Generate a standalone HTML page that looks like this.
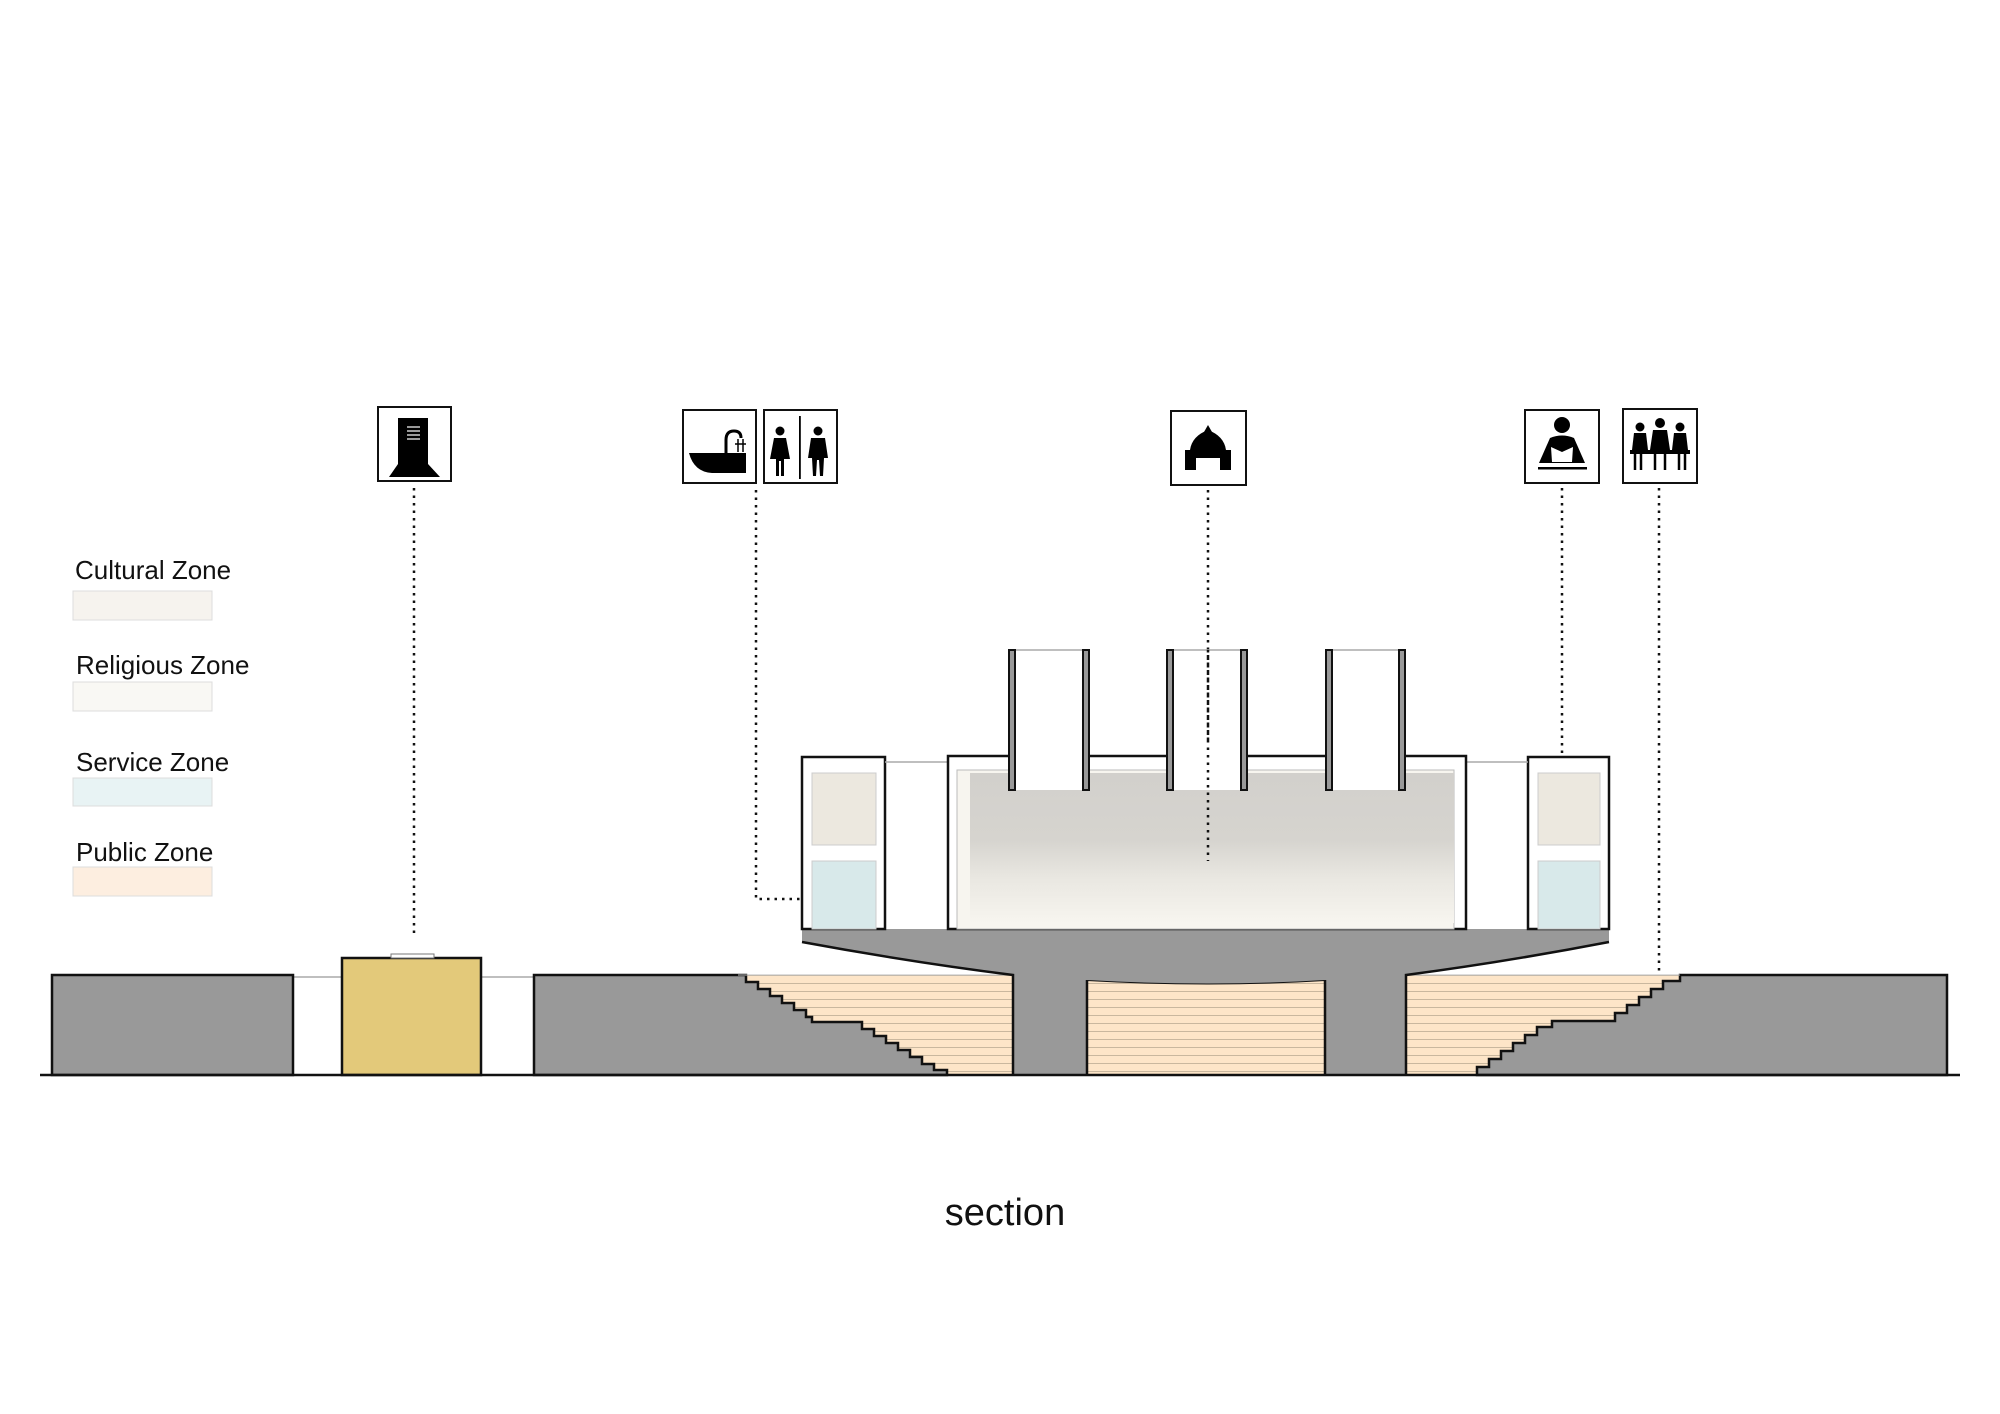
<!DOCTYPE html>
<html><head><meta charset="utf-8"><style>
html,body{margin:0;padding:0;background:#fff}
svg{display:block}
text{font-family:"Liberation Sans",sans-serif}
</style></head><body>
<svg width="2000" height="1414" viewBox="0 0 2000 1414" xmlns="http://www.w3.org/2000/svg">
<defs>
<pattern id="stripe" width="10" height="8" patternUnits="userSpaceOnUse">
<rect width="10" height="8" fill="#fde5c8"/><line x1="0" y1="7.5" x2="10" y2="7.5" stroke="#c9b79e" stroke-width="1"/>
</pattern>
<linearGradient id="hall" x1="0" y1="0" x2="0" y2="1">
<stop offset="0" stop-color="#d2d0cc"/>
<stop offset="0.45" stop-color="#d6d4cf"/>
<stop offset="0.7" stop-color="#e9e7e1"/>
<stop offset="1" stop-color="#f7f5ef"/>
</linearGradient>
</defs>

<g font-size="26" fill="#111">
<text x="75" y="579">Cultural Zone</text>
<rect x="73" y="591" width="139" height="29" fill="#f6f3ee" stroke="#ddd"/>
<text x="76" y="674">Religious Zone</text>
<rect x="73" y="682" width="139" height="29" fill="#f9f8f4" stroke="#ddd"/>
<text x="76" y="771">Service Zone</text>
<rect x="73" y="778" width="139" height="28" fill="#e8f3f4" stroke="#ddd"/>
<text x="76" y="861">Public Zone</text>
<rect x="73" y="867" width="139" height="29" fill="#fdeee0" stroke="#ddd"/>
</g>

<g stroke="#111" stroke-width="2.5" stroke-dasharray="2.5 5" fill="none">
<line x1="414" y1="488" x2="414" y2="933"/>
<polyline points="756,490 756,899 855,899"/>
<line x1="1208" y1="490" x2="1208" y2="861"/>
<line x1="1562" y1="488" x2="1562" y2="810"/>
<line x1="1659" y1="488" x2="1659" y2="982"/>
</g>

<g fill="#fff" stroke="#111" stroke-width="2">
<rect x="378" y="407" width="73" height="74"/>
<rect x="683" y="410" width="73" height="73"/>
<rect x="764" y="410" width="73" height="73"/>
<rect x="1171" y="411" width="75" height="74"/>
<rect x="1525" y="410" width="74" height="73"/>
<rect x="1623" y="409" width="74" height="74"/>
</g>
<g fill="#000">
<rect x="398" y="418" width="30" height="46"/>
<g stroke="#fff" stroke-width="1.2"><line x1="407" y1="427" x2="420" y2="427"/><line x1="407" y1="431" x2="420" y2="431"/><line x1="407" y1="435" x2="420" y2="435"/><line x1="407" y1="439" x2="420" y2="439"/></g>
<polygon points="398,464 428,464 440,477 389,477"/>
<path d="M689,453 L746,453 L746,473 L712,473 Q694,472 689,453Z"/>
<path d="M726,453 L726,440 Q726,431 734,431 Q741,431 741,438" fill="none" stroke="#000" stroke-width="3"/>
<g stroke="#000" stroke-width="1.5"><line x1="735" y1="444" x2="746" y2="444"/><line x1="738" y1="439" x2="738" y2="452"/><line x1="743" y1="439" x2="743" y2="452"/></g>
<circle cx="780" cy="431" r="4.5"/>
<path d="M774,438 L786,438 L790,459 L784,459 L784,476 L781,476 L781,461 L779,461 L779,476 L776,476 L776,459 L770,459Z"/>
<rect x="799" y="416" width="1.8" height="63"/>
<circle cx="818" cy="431" r="4.5"/>
<path d="M811,438 L825,438 L828,458 L824,458 L823,476 L820,476 L819,460 L817,460 L816,476 L813,476 L812,458 L808,458Z"/>
<path d="M1190,450 Q1192,436 1208,430 Q1224,436 1226,450Z"/>
<polygon points="1204,432 1208,425 1212,432"/>
<path d="M1185,450 L1231,450 L1231,470 L1220,470 L1220,458 L1196,458 L1196,470 L1185,470Z"/>
<circle cx="1562" cy="425" r="8"/>
<path d="M1550,438 Q1562,433 1574,438 L1585,463 L1539,463Z"/>
<path d="M1551,447 L1562,452 L1573,447 L1572,462 L1552,462Z" fill="#fff"/>
<rect x="1538" y="467" width="49" height="2.5"/>
<circle cx="1640" cy="427" r="4.5"/><circle cx="1660" cy="423" r="5"/><circle cx="1680" cy="427" r="4.5"/>
<path d="M1634,433 L1646,433 L1648,450 L1632,450Z"/>
<path d="M1653,430 L1667,430 L1670,450 L1650,450Z"/>
<path d="M1674,433 L1686,433 L1688,450 L1672,450Z"/>
<rect x="1630" y="450" width="60" height="4"/>
<g stroke="#000" stroke-width="2.5"><line x1="1635" y1="454" x2="1635" y2="470"/><line x1="1641" y1="454" x2="1641" y2="470"/><line x1="1655" y1="454" x2="1655" y2="470"/><line x1="1665" y1="454" x2="1665" y2="470"/><line x1="1679" y1="454" x2="1679" y2="470"/><line x1="1685" y1="454" x2="1685" y2="470"/></g>
</g>

<g stroke="#aaa" stroke-width="1.5">
<line x1="293" y1="977" x2="342" y2="977"/>
<line x1="481" y1="977" x2="534" y2="977"/>
</g>

<polygon points="738,975 1013,975 1013,1075 930,1075 930,1068 918,1068 918,1062 906,1062 906,1054 894,1054 894,1046 882,1046 882,1038 870,1038 870,1030 858,1030 858,1022 806,1022 806,1015 794,1015 794,1007 782,1007 782,999 770,999 770,991 758,991 758,983 746,983 746,975" fill="url(#stripe)"/>
<path d="M1087,980 Q1210,987 1325,980 L1325,1075 L1087,1075Z" fill="url(#stripe)" stroke="#111" stroke-width="2"/>
<polygon points="1406,975 1680,975 1680,1075 1477,1075 1406,1075" fill="url(#stripe)"/>

<g fill="#999" stroke="#111" stroke-width="2.5">
<rect x="52" y="975" width="241" height="100"/>
<polygon points="534,975 738,975 746,975 746,982 758,982 758,989 770,989 770,996 782,996 782,1003 794,1003 794,1010 806,1010 806,1017 812,1017 812,1022 862,1022 862,1029 874,1029 874,1036 886,1036 886,1043 898,1043 898,1050 910,1050 910,1057 922,1057 922,1064 934,1064 934,1070 947,1070 947,1075 534,1075"/>
<polygon points="1477,1075 1477,1067 1489,1067 1489,1059 1501,1059 1501,1051 1513,1051 1513,1043 1525,1043 1525,1035 1537,1035 1537,1027 1552,1027 1552,1021 1615,1021 1615,1013 1627,1013 1627,1005 1639,1005 1639,997 1651,997 1651,989 1663,989 1663,981 1680,981 1680,975 1947,975 1947,1075"/>
</g>
<line x1="738" y1="975" x2="1013" y2="975" stroke="#bbb" stroke-width="1"/>
<line x1="1406" y1="975" x2="1680" y2="975" stroke="#bbb" stroke-width="1"/>
<rect x="342" y="958" width="139" height="117" fill="#e3c97a" stroke="#111" stroke-width="2.5"/>
<rect x="391" y="954" width="43" height="4" fill="#fff" stroke="#777" stroke-width="1"/>

<path d="M802,929 L1609,929 L1609,942 Q1505,962 1406,975 L1406,1075 L1325,1075 L1325,980 Q1210,987 1087,980 L1087,1075 L1013,1075 L1013,975 Q910,962 802,942Z" fill="#999"/>
<path d="M802,942 Q910,962 1013,975 L1013,1075 M1087,1075 L1087,980 M1325,980 L1325,1075 M1406,1075 L1406,975 Q1505,962 1609,942" fill="none" stroke="#111" stroke-width="2.5"/>
<line x1="40" y1="1075" x2="1960" y2="1075" stroke="#111" stroke-width="2.5"/>

<rect x="802" y="757" width="83" height="172" fill="#fff" stroke="#111" stroke-width="2.5"/>
<rect x="812" y="773" width="64" height="72" fill="#ece8df" stroke="#ccc" stroke-width="1"/>
<rect x="812" y="861" width="64" height="68" fill="#d8e9ea" stroke="#ccc" stroke-width="1"/>
<line x1="885" y1="762" x2="948" y2="762" stroke="#aaa" stroke-width="1.5"/>
<rect x="1528" y="757" width="81" height="172" fill="#fff" stroke="#111" stroke-width="2.5"/>
<rect x="1538" y="773" width="62" height="72" fill="#ece8df" stroke="#ccc" stroke-width="1"/>
<rect x="1538" y="861" width="62" height="68" fill="#d8e9ea" stroke="#ccc" stroke-width="1"/>
<line x1="1466" y1="762" x2="1528" y2="762" stroke="#aaa" stroke-width="1.5"/>
<rect x="948" y="756" width="518" height="173" fill="#fff" stroke="#111" stroke-width="2.5"/>
<rect x="957" y="770" width="497" height="159" fill="#f7f5ef" stroke="#bbb" stroke-width="1"/>
<rect x="970" y="773" width="484" height="150" fill="url(#hall)"/>
<g fill="#fff">
<rect x="1013" y="740" width="73" height="50"/>
<rect x="1171" y="740" width="73" height="50"/>
<rect x="1330" y="740" width="71" height="50"/>
</g>
<g stroke="#aaa" stroke-width="1.5">
<line x1="1012" y1="650" x2="1086" y2="650"/>
<line x1="1170" y1="650" x2="1244" y2="650"/>
<line x1="1329" y1="650" x2="1401" y2="650"/>
</g>
<g fill="#999" stroke="#111" stroke-width="2">
<rect x="1009" y="650" width="6" height="140"/>
<rect x="1083" y="650" width="6" height="140"/>
<rect x="1167" y="650" width="6" height="140"/>
<rect x="1241" y="650" width="6" height="140"/>
<rect x="1326" y="650" width="6" height="140"/>
<rect x="1399" y="650" width="6" height="140"/>
</g>
<line x1="1208" y1="650" x2="1208" y2="861" stroke="#111" stroke-width="2.5" stroke-dasharray="2.5 5"/>

<text x="1005" y="1225" font-size="38" text-anchor="middle" fill="#111">section</text>
</svg>
</body></html>
